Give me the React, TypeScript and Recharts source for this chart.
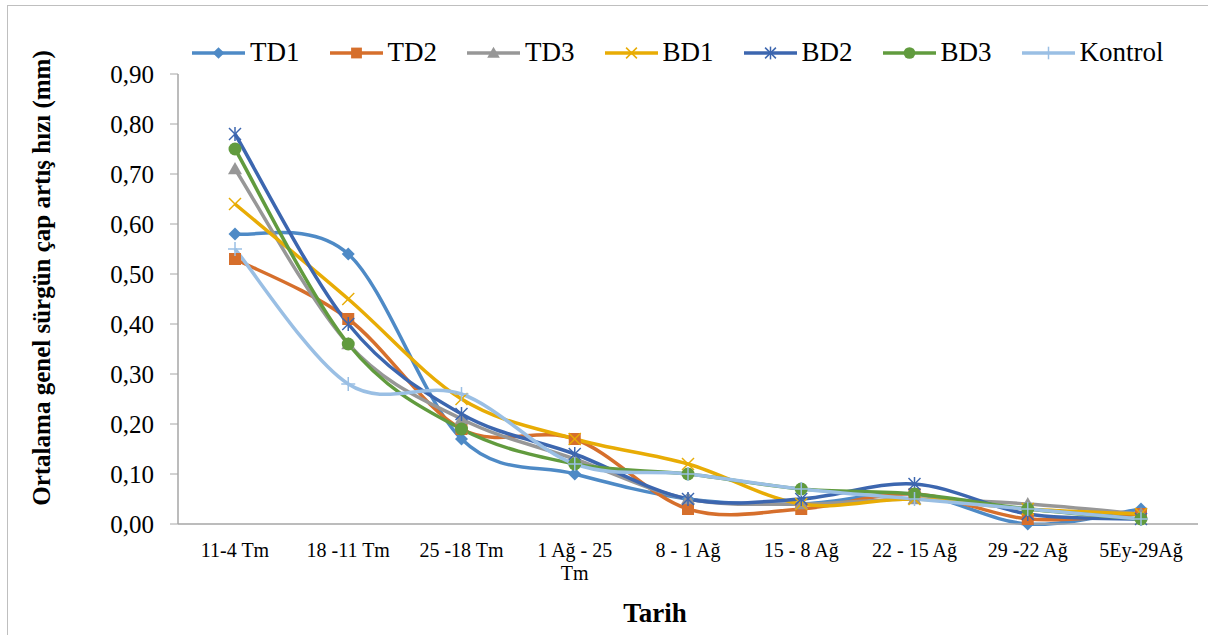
import React from 'react';
import { LineChart, Line, XAxis, YAxis, Legend } from 'recharts';

const categories = ['11-4 Tm', '18 -11 Tm', '25 -18 Tm', '1 Ağ - 25 Tm', '8 - 1 Ağ', '15 - 8 Ağ', '22 - 15 Ağ', '29 -22 Ağ', '5Ey-29Ağ'];
const td1 = [0.58, 0.54, 0.17, 0.10, 0.05, 0.04, 0.06, 0.00, 0.03];
const td2 = [0.53, 0.41, 0.19, 0.17, 0.03, 0.03, 0.06, 0.01, 0.02];
const td3 = [0.71, 0.36, 0.21, 0.13, 0.05, 0.04, 0.05, 0.04, 0.02];
const bd1 = [0.64, 0.45, 0.25, 0.17, 0.12, 0.04, 0.05, 0.03, 0.02];
const bd2 = [0.78, 0.40, 0.22, 0.14, 0.05, 0.05, 0.08, 0.02, 0.01];
const bd3 = [0.75, 0.36, 0.19, 0.12, 0.10, 0.07, 0.06, 0.03, 0.01];
const kontrol = [0.55, 0.28, 0.26, 0.12, 0.10, 0.07, 0.05, 0.03, 0.01];
const yTicks = [0, 0.1, 0.2, 0.3, 0.4, 0.5, 0.6, 0.7, 0.8, 0.9];

const FONT = '"Liberation Serif", "Times New Roman", serif';

type Shape = 'diamond' | 'square' | 'triangle' | 'x' | 'star' | 'circle' | 'plus';

const series: { key: string; name: string; color: string; shape: Shape; values: number[] }[] = [
  { key: 'td1', name: 'TD1', color: '#4E8AC6', shape: 'diamond', values: td1 },
  { key: 'td2', name: 'TD2', color: '#D66F2C', shape: 'square', values: td2 },
  { key: 'td3', name: 'TD3', color: '#979797', shape: 'triangle', values: td3 },
  { key: 'bd1', name: 'BD1', color: '#E8AC05', shape: 'x', values: bd1 },
  { key: 'bd2', name: 'BD2', color: '#3C66AF', shape: 'star', values: bd2 },
  { key: 'bd3', name: 'BD3', color: '#619B3E', shape: 'circle', values: bd3 },
  { key: 'kontrol', name: 'Kontrol', color: '#9ABFE4', shape: 'plus', values: kontrol },
];

const data = categories.map((name, i) => {
  const row: Record<string, any> = { name };
  series.forEach((s) => { row[s.key] = s.values[i]; });
  return row;
});

// excel-like smoothed line: bezier with 1/6 neighbour tangents
const excelCurve = (context: any) => {
  let pts: number[][] = [];
  return {
    areaStart() {},
    areaEnd() {},
    lineStart() { pts = []; },
    point(x: number, y: number) { pts.push([+x, +y]); },
    lineEnd() {
      if (!pts.length) return;
      context.moveTo(pts[0][0], pts[0][1]);
      for (let i = 0; i < pts.length - 1; i++) {
        const p0 = pts[i - 1] || pts[i];
        const p1 = pts[i];
        const p2 = pts[i + 1];
        const p3 = pts[i + 2] || p2;
        context.bezierCurveTo(
          p1[0] + (p2[0] - p0[0]) / 6, p1[1] + (p2[1] - p0[1]) / 6,
          p2[0] - (p3[0] - p1[0]) / 6, p2[1] - (p3[1] - p1[1]) / 6,
          p2[0], p2[1]
        );
      }
    },
  };
};

function Marker({ shape, color, cx, cy, s = 1 }: { shape: Shape; color: string; cx: number; cy: number; s?: number }) {
  switch (shape) {
    case 'diamond': {
      const r = 6.5 * s;
      return <polygon points={`${cx},${cy - r} ${cx + r},${cy} ${cx},${cy + r} ${cx - r},${cy}`} fill={color} />;
    }
    case 'square': {
      const r = 6 * s;
      return <rect x={cx - r} y={cy - r} width={2 * r} height={2 * r} fill={color} />;
    }
    case 'triangle': {
      const r = 7 * s;
      return <polygon points={`${cx},${cy - r} ${cx + r},${cy + r * 0.75} ${cx - r},${cy + r * 0.75}`} fill={color} />;
    }
    case 'x': {
      const r = 6 * s;
      return (
        <g stroke={color} strokeWidth={1.5}>
          <line x1={cx - r} y1={cy - r} x2={cx + r} y2={cy + r} />
          <line x1={cx - r} y1={cy + r} x2={cx + r} y2={cy - r} />
        </g>
      );
    }
    case 'star': {
      const r = 6 * s;
      return (
        <g stroke={color} strokeWidth={1.5}>
          <line x1={cx - r} y1={cy - r} x2={cx + r} y2={cy + r} />
          <line x1={cx - r} y1={cy + r} x2={cx + r} y2={cy - r} />
          <line x1={cx} y1={cy - r - 1} x2={cx} y2={cy + r + 1} />
        </g>
      );
    }
    case 'circle':
      return <circle cx={cx} cy={cy} r={6.5 * s} fill={color} />;
    case 'plus': {
      const r = 7 * s;
      return (
        <g stroke={color} strokeWidth={1.5}>
          <line x1={cx - r} y1={cy} x2={cx + r} y2={cy} />
          <line x1={cx} y1={cy - r} x2={cx} y2={cy + r} />
        </g>
      );
    }
  }
  return null;
}

const XTick = ({ x, y, payload }: any) => {
  const label: string = payload.value;
  const cut = label.lastIndexOf(' ');
  const lines = label.length > 10 ? [label.slice(0, cut), label.slice(cut + 1)] : [label];
  return (
    <text x={x} y={y} textAnchor="middle" fontFamily={FONT} fontSize={20} fill="#000">
      {lines.map((l, i) => (
        <tspan key={i} x={x} dy={i === 0 ? 33 : 23}>{l}</tspan>
      ))}
    </text>
  );
};

const renderLegend = () => (
  <div style={{ display: 'flex', alignItems: 'center', gap: 30, fontFamily: FONT, fontSize: 27, color: '#000' }}>
    {series.map((s) => (
      <div key={s.key} style={{ display: 'flex', alignItems: 'center' }}>
        <svg width={53} height={16} style={{ marginRight: 5 }}>
          <line x1={0} y1={8} x2={53} y2={8} stroke={s.color} strokeWidth={3.5} />
          <Marker shape={s.shape} color={s.color} cx={26.5} cy={8} s={0.9} />
        </svg>
        <span>{s.name}</span>
      </div>
    ))}
  </div>
);

export default function App() {
  return (
    <div style={{ position: 'absolute', left: 0, top: 0, width: 1208, height: 635, background: '#fff', overflow: 'hidden' }}>
      <div style={{ position: 'absolute', left: 7, top: 5, width: 1220, height: 650, border: '1px solid #bfbfbf' }} />
      <LineChart width={1208} height={635} data={data} margin={{ top: 74, right: 10, bottom: 51, left: 118 }}>
        <XAxis
          dataKey="name"
          interval={0}
          padding={{ left: 57, right: 57 }}
          tickLine={false}
          tickSize={0}
          tickMargin={0}
          axisLine={{ stroke: '#a6a6a6', strokeWidth: 1.5 }}
          tick={<XTick />}
          height={60}
        />
        <YAxis
          width={60}
          domain={[0, 0.9]}
          ticks={yTicks}
          interval={0}
          tickSize={8}
          tickMargin={16}
          tickFormatter={(v: number) => v.toFixed(2).replace('.', ',')}
          tick={{ fontSize: 25, fontFamily: FONT, fill: '#000' }}
          tickLine={{ stroke: '#a6a6a6' }}
          axisLine={{ stroke: '#a6a6a6', strokeWidth: 1.5 }}
        />
        <Legend
          layout="horizontal"
          verticalAlign="middle"
          align="center"
          content={renderLegend}
          wrapperStyle={{ top: 37, left: 192, width: 'auto', height: 'auto' }}
        />
        {series.map((s) => (
          <Line
            key={s.key}
            dataKey={s.key}
            name={s.name}
            type={excelCurve as any}
            stroke={s.color}
            strokeWidth={3.5}
            isAnimationActive={false}
            dot={(p: any) => <Marker key={`${s.key}-${p.index}`} shape={s.shape} color={s.color} cx={p.cx} cy={p.cy} />}
            activeDot={false}
          />
        ))}
      </LineChart>
      <div
        style={{
          position: 'absolute', left: 42, top: 278, transform: 'translate(-50%, -50%) rotate(-90deg)',
          whiteSpace: 'nowrap', fontFamily: FONT, fontWeight: 'bold', fontSize: 25, color: '#000',
        }}
      >
        Ortalama genel sürgün çap artış hızı (mm)
      </div>
      <div
        style={{
          position: 'absolute', left: 655, top: 613, transform: 'translate(-50%, -50%)',
          whiteSpace: 'nowrap', fontFamily: FONT, fontWeight: 'bold', fontSize: 27, color: '#000',
        }}
      >
        Tarih
      </div>
    </div>
  );
}
